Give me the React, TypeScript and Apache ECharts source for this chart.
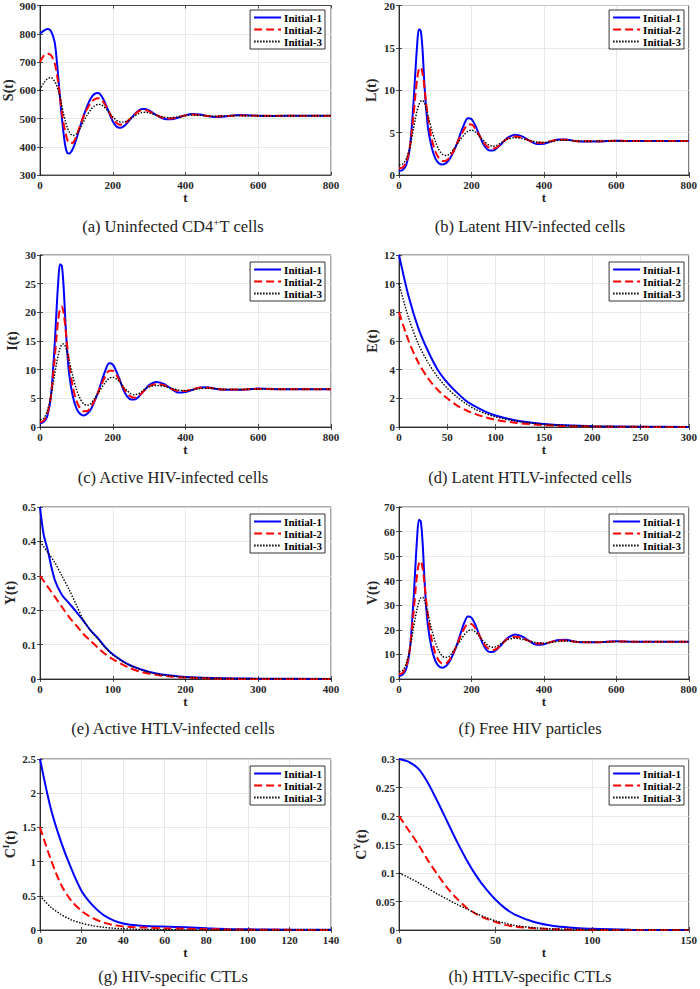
import React, { useEffect, useRef } from "react";
import * as echarts from "echarts";

const NAMES = ["Initial-1", "Initial-2", "Initial-3"];

// shared time grid for the oscillating panels (a), (b), (c), (f)
const T_OSC = [0,10,20,30,40,45,50,55,60,65,70,75,80,90,100,110,120,130,140,150,160,170,180,190,200,210,220,230,240,250,260,270,280,290,300,320,340,360,380,400,420,440,460,480,500,550,600,650,700,750,800];

// (a) S(t)
const S1 = [800,810,817,810,772,720,650,575,505,445,400,378,376,392,428,470,510,545,572,587,590,578,552,520,490,472,467,472,485,500,515,527,534,534,529,512,499,497,503,512,516,514,509,505,506,512,510,509,510,510,510];
const S2 = [700,722,730,724,698,668,625,575,525,482,450,425,413,414,438,474,508,535,555,568,572,565,546,522,500,485,478,480,490,502,514,524,529,529,525,512,502,500,505,511,514,512,509,507,508,511,510,510,510,510,510];
const S3 = [600,625,640,645,632,620,600,575,545,515,490,468,453,440,445,465,490,513,532,545,550,547,536,521,506,494,488,487,492,500,509,516,521,522,520,512,505,503,506,510,512,511,509,508,509,510,510,510,510,510,510];

// (b) L(t)
const L1 = [0.5,0.6,1.2,3.2,8.5,12,15.3,17.2,17.0,14.8,10.8,7.8,5.6,3.3,2.0,1.4,1.25,1.4,1.9,2.7,3.7,4.9,6.0,6.7,6.6,5.9,4.9,3.9,3.2,2.9,2.9,3.15,3.55,4.0,4.4,4.75,4.55,4.05,3.65,3.7,3.95,4.2,4.2,4.05,3.95,3.95,4.05,4.0,4.0,4.0,4.0];
const L2 = [0.8,0.9,1.5,3.3,7.0,9.3,11.3,12.5,12.7,12.0,10.4,8.5,6.8,4.3,2.8,2.0,1.65,1.7,2.1,2.8,3.7,4.6,5.4,5.95,5.95,5.5,4.8,4.1,3.5,3.2,3.1,3.25,3.6,4.0,4.3,4.55,4.4,4.05,3.8,3.8,4.0,4.15,4.15,4.05,3.97,3.97,4.03,4.0,4.0,4.0,4.0];
const L3 = [1.2,1.3,1.9,3.3,5.5,6.6,7.6,8.3,8.7,8.8,8.5,7.8,7.0,5.4,4.0,3.0,2.45,2.3,2.5,3.0,3.6,4.2,4.75,5.15,5.3,5.1,4.7,4.2,3.8,3.5,3.4,3.5,3.75,4.05,4.25,4.4,4.3,4.1,3.9,3.85,3.95,4.08,4.1,4.05,4.0,3.98,4.02,4.0,4.0,4.0,4.0];

// (c) I(t)
const I1 = [0.6,0.9,1.9,5.3,14,19.8,25.2,28.4,28.1,24.4,18.2,13,9.3,5.4,3.3,2.3,2.0,2.3,3.1,4.5,6.1,8.1,9.9,11.1,10.9,9.7,8.1,6.4,5.3,4.8,4.8,5.2,5.9,6.6,7.3,7.85,7.5,6.7,6.0,6.1,6.5,6.9,6.95,6.7,6.5,6.5,6.7,6.6,6.6,6.6,6.6];
const I2 = [0.8,1.1,2.3,5.4,11.6,15.4,18.7,20.6,21.0,19.8,17.2,14.0,11.2,7.1,4.6,3.3,2.75,2.8,3.5,4.6,6.1,7.6,8.9,9.8,9.8,9.1,7.9,6.8,5.8,5.3,5.1,5.4,5.9,6.6,7.1,7.5,7.3,6.7,6.3,6.3,6.6,6.85,6.85,6.7,6.55,6.55,6.65,6.6,6.6,6.6,6.6];
const I3 = [1.3,1.5,2.8,5.4,9.1,10.9,12.5,13.7,14.4,14.5,14.0,12.9,11.6,8.9,6.6,5.0,4.05,3.8,4.1,5.0,5.9,6.9,7.8,8.5,8.7,8.4,7.8,6.9,6.3,5.8,5.6,5.8,6.2,6.7,7.0,7.25,7.1,6.8,6.45,6.35,6.5,6.7,6.75,6.7,6.6,6.55,6.62,6.6,6.6,6.6,6.6];

// (d) E(t)
const T_E = [0,10,20,30,40,50,60,70,80,90,100,120,140,160,180,200,250,300];
const E1 = [12,9.1,6.9,5.3,4.0,3.1,2.4,1.8,1.4,1.05,0.8,0.47,0.28,0.16,0.1,0.06,0.02,0.005];
const E2 = [8,6.0,4.5,3.4,2.6,2.0,1.5,1.15,0.88,0.67,0.5,0.3,0.18,0.1,0.06,0.035,0.01,0.003];
const E3 = [10,7.6,5.8,4.5,3.5,2.7,2.1,1.6,1.2,0.93,0.71,0.42,0.25,0.15,0.09,0.05,0.015,0.004];

// (e) Y(t)
const T_Y = [0,5,10,20,30,40,50,60,70,80,90,100,120,140,160,180,200,250,300,400];
const Y1 = [0.5,0.42,0.38,0.29,0.245,0.22,0.195,0.168,0.14,0.118,0.092,0.072,0.044,0.027,0.016,0.01,0.006,0.002,0.001,0];
const Y2 = [0.3,0.285,0.27,0.24,0.21,0.18,0.155,0.13,0.11,0.09,0.072,0.058,0.035,0.02,0.012,0.007,0.004,0.001,0,0];
const Y3 = [0.4,0.385,0.37,0.34,0.30,0.26,0.215,0.17,0.14,0.115,0.09,0.07,0.043,0.026,0.015,0.009,0.005,0.002,0.001,0];

// (f) V(t)
const V1 = [1.2,1.8,4.2,12,32,45,57.5,64.8,64.2,56,41.5,29.5,21.5,12.5,7.5,5.2,4.6,5.3,7.2,10.2,14,18.5,22.8,25.4,25.0,22.3,18.6,14.8,12.2,11.0,11.0,12.0,13.5,15.2,16.7,18.1,17.3,15.4,13.9,14.1,15.1,15.9,16.0,15.4,15.0,15.0,15.4,15.2,15.2,15.2,15.2];
const V2 = [2.0,2.5,5.2,12.4,26.5,35,42.5,47,48,45.3,39.3,32,25.7,16.3,10.6,7.5,6.3,6.4,8,10.6,14,17.4,20.5,22.4,22.4,20.8,18.2,15.5,13.3,12.1,11.8,12.4,13.6,15.1,16.3,17.2,16.7,15.4,14.4,14.4,15.1,15.7,15.7,15.3,15.0,15.0,15.3,15.2,15.2,15.2,15.2];
const V3 = [3.0,3.5,6.3,12.3,20.8,24.9,28.6,31.4,33,33.3,32,29.5,26.5,20.3,15.1,11.4,9.3,8.8,9.4,11.4,13.6,15.8,17.9,19.5,20.0,19.3,17.8,15.9,14.4,13.3,12.9,13.3,14.2,15.2,16.0,16.6,16.2,15.5,14.8,14.6,14.9,15.3,15.45,15.3,15.1,15.0,15.2,15.2,15.2,15.2,15.2];

// (g) C^I(t)
const T_CI = [0,5,10,15,20,25,30,35,40,45,50,60,70,80,90,100,120,140];
const CI1 = [2.5,1.8,1.3,0.9,0.57,0.37,0.23,0.145,0.095,0.072,0.06,0.05,0.04,0.025,0.015,0.01,0.004,0.002];
const CI2 = [1.5,1.05,0.67,0.43,0.28,0.18,0.115,0.075,0.052,0.04,0.035,0.025,0.018,0.012,0.008,0.005,0.002,0.001];
const CI3 = [0.5,0.34,0.23,0.15,0.1,0.065,0.042,0.027,0.018,0.012,0.008,0.004,0.002,0.001,0,0,0,0];

// (h) C^Y(t)
const T_CY = [0,5,10,15,20,25,30,35,40,45,50,55,60,70,80,90,100,120,150];
const CY1 = [0.3,0.295,0.283,0.258,0.225,0.19,0.155,0.123,0.095,0.072,0.053,0.038,0.027,0.014,0.007,0.004,0.002,0.0005,0];
const CY2 = [0.2,0.175,0.15,0.122,0.097,0.074,0.055,0.039,0.028,0.02,0.014,0.009,0.006,0.003,0.0015,0.0007,0.0003,0,0];
const CY3 = [0.1,0.092,0.083,0.073,0.063,0.054,0.045,0.037,0.029,0.022,0.016,0.012,0.008,0.004,0.002,0.001,0.0005,0,0];

const SERIF = '"Liberation Serif", "Times New Roman", serif';
const AXIS_COLOR = "#262626";
const GRID_COLOR = "#e3e3e3";

const LINE_STYLES: any[] = [
  { color: "#0000ff", width: 2, type: "solid" },
  { color: "#ff0000", width: 2, type: [8, 4] },
  { color: "#000000", width: 1.4, type: [1.5, 1.5] },
];

const PLOT_W = 291;

const PANELS: any[] = [
  { left: 40, top: 3, height: 172, xMax: 800, xInt: 200, yMin: 300, yMax: 900, yInt: 100, yName: "S(t)", nameGap: 19, T: T_OSC, ys: [S1, S2, S3] },
  { left: 399, top: 3, height: 172, xMax: 800, xInt: 200, yMin: 0, yMax: 20, yInt: 5, yName: "L(t)", nameGap: 21, T: T_OSC, ys: [L1, L2, L3] },
  { left: 40, top: 255, height: 172, xMax: 800, xInt: 200, yMin: 0, yMax: 30, yInt: 5, yName: "I(t)", nameGap: 21, T: T_OSC, ys: [I1, I2, I3] },
  { left: 399, top: 255, height: 172, xMax: 300, xInt: 50, yMin: 0, yMax: 12, yInt: 2, yName: "E(t)", nameGap: 20, T: T_E, ys: [E1, E2, E3] },
  { left: 40, top: 507, height: 172, xMax: 400, xInt: 100, yMin: 0, yMax: 0.5, yInt: 0.1, yName: "Y(t)", nameGap: 23, T: T_Y, ys: [Y1, Y2, Y3] },
  { left: 399, top: 507, height: 172, xMax: 800, xInt: 200, yMin: 0, yMax: 70, yInt: 10, yName: "V(t)", nameGap: 20, T: T_OSC, ys: [V1, V2, V3] },
  { left: 40, top: 759, height: 171, xMax: 140, xInt: 20, yMin: 0, yMax: 2.5, yInt: 0.5, yName: "{m|C}{s|I}{m|(t)}", nameGap: 21, T: T_CI, ys: [CI1, CI2, CI3] },
  { left: 399, top: 759, height: 171, xMax: 150, xInt: 50, yMin: 0, yMax: 0.3, yInt: 0.05, yName: "{m|C}{s|Y}{m|(t)}", nameGap: 29, T: T_CY, ys: [CY1, CY2, CY3] },
];

const CAPTIONS: any[] = [
  { x: 173, y: 226, text: "{m|(a) Uninfected CD4}{s|+}{m|T cells}" },
  { x: 530, y: 226, text: "{m|(b) Latent HIV-infected cells}" },
  { x: 173, y: 477, text: "{m|(c) Active HIV-infected cells}" },
  { x: 530, y: 477, text: "{m|(d) Latent HTLV-infected cells}" },
  { x: 173, y: 728, text: "{m|(e) Active HTLV-infected cells}" },
  { x: 530, y: 728, text: "{m|(f) Free HIV particles}" },
  { x: 173, y: 976, text: "{m|(g) HIV-specific CTLs}" },
  { x: 530, y: 976, text: "{m|(h) HTLV-specific CTLs}" },
];

function buildOption() {
  const grid: any[] = [];
  const xAxis: any[] = [];
  const yAxis: any[] = [];
  const series: any[] = [];
  const legend: any[] = [];

  const tickLabel = { fontFamily: SERIF, fontWeight: "bold", fontSize: 11, color: AXIS_COLOR };
  const axisLine = { show: true, lineStyle: { color: AXIS_COLOR, width: 0.8 } };
  const axisTick = { show: true, inside: true, length: 3, lineStyle: { color: AXIS_COLOR, width: 0.8 } };

  PANELS.forEach((p, i) => {
    grid.push({ left: p.left, top: p.top, width: PLOT_W, height: p.height, show: true, borderColor: AXIS_COLOR, borderWidth: 0.8, backgroundColor: "#fff" });
    xAxis.push({
      gridIndex: i, type: "value", min: 0, max: p.xMax, interval: p.xInt, position: "bottom",
      axisLine, axisTick, axisLabel: { ...tickLabel, margin: 4 },
      splitLine: { show: true, lineStyle: { color: GRID_COLOR, width: 0.8 } },
      name: "t", nameLocation: "middle", nameGap: 15,
      nameTextStyle: { fontFamily: SERIF, fontWeight: "bold", fontSize: 13, color: AXIS_COLOR },
    });
    xAxis.push({
      gridIndex: i, type: "value", min: 0, max: p.xMax, interval: p.xInt, position: "top",
      axisLine, axisTick, axisLabel: { show: false }, splitLine: { show: false },
    });
    yAxis.push({
      gridIndex: i, type: "value", min: p.yMin, max: p.yMax, interval: p.yInt, position: "left",
      axisLine, axisTick, axisLabel: { ...tickLabel, margin: 4 },
      splitLine: { show: true, lineStyle: { color: GRID_COLOR, width: 0.8 } },
      name: p.yName, nameLocation: "middle", nameGap: p.nameGap,
      nameTextStyle: {
        fontFamily: SERIF, fontWeight: "bold", fontSize: 14, color: AXIS_COLOR,
        rich: {
          m: { fontFamily: SERIF, fontWeight: "bold", fontSize: 14, lineHeight: 18, color: AXIS_COLOR },
          s: { fontFamily: SERIF, fontWeight: "bold", fontSize: 9, lineHeight: 9, verticalAlign: "top", color: AXIS_COLOR },
        },
      },
    });
    yAxis.push({
      gridIndex: i, type: "value", min: p.yMin, max: p.yMax, interval: p.yInt, position: "right",
      axisLine, axisTick, axisLabel: { show: false }, splitLine: { show: false },
    });
    p.ys.forEach((arr: number[], k: number) => {
      series.push({
        type: "line", name: NAMES[k], xAxisIndex: 2 * i, yAxisIndex: 2 * i,
        data: p.T.map((t: number, j: number) => [t, arr[j]]),
        symbol: "none", showSymbol: false, smooth: 0.3, clip: true,
        lineStyle: LINE_STYLES[k], itemStyle: { color: LINE_STYLES[k].color },
        emphasis: { disabled: true },
      });
    });
    legend.push({
      data: NAMES, orient: "vertical",
      right: 700 - (p.left + PLOT_W) + 6, top: p.top + 7,
      backgroundColor: "#fff", borderColor: "#000", borderWidth: 0.8,
      padding: [2, 3, 2, 3], itemGap: 1, itemWidth: 27, itemHeight: 10,
      selectedMode: false,
      itemStyle: { opacity: 0 },
      textStyle: { fontFamily: SERIF, fontWeight: "bold", fontSize: 11, color: "#000", padding: [0, 0, 0, -2] },
    });
  });

  const graphic = CAPTIONS.map((c) => ({
    type: "text", x: c.x, y: c.y,
    style: {
      text: c.text, align: "center", verticalAlign: "middle", textAlign: "center", textVerticalAlign: "middle",
      fill: "#222",
      rich: {
        m: { fontFamily: SERIF, fontSize: 16.5, lineHeight: 20, fill: "#222", color: "#222" },
        s: { fontFamily: SERIF, fontSize: 11, lineHeight: 10, verticalAlign: "top", fill: "#222", color: "#222" },
      },
    },
  }));

  return { animation: false, backgroundColor: "#fff", grid, xAxis, yAxis, series, legend, graphic };
}

export default function App() {
  const ref = useRef<HTMLDivElement>(null);
  useEffect(() => {
    document.body.style.margin = "0";
    if (!ref.current) return;
    const chart = echarts.init(ref.current, undefined, { renderer: "svg" });
    chart.setOption(buildOption());
    return () => chart.dispose();
  }, []);
  return <div ref={ref} style={{ position: "absolute", left: 0, top: 0, width: 700, height: 989 }} />;
}
